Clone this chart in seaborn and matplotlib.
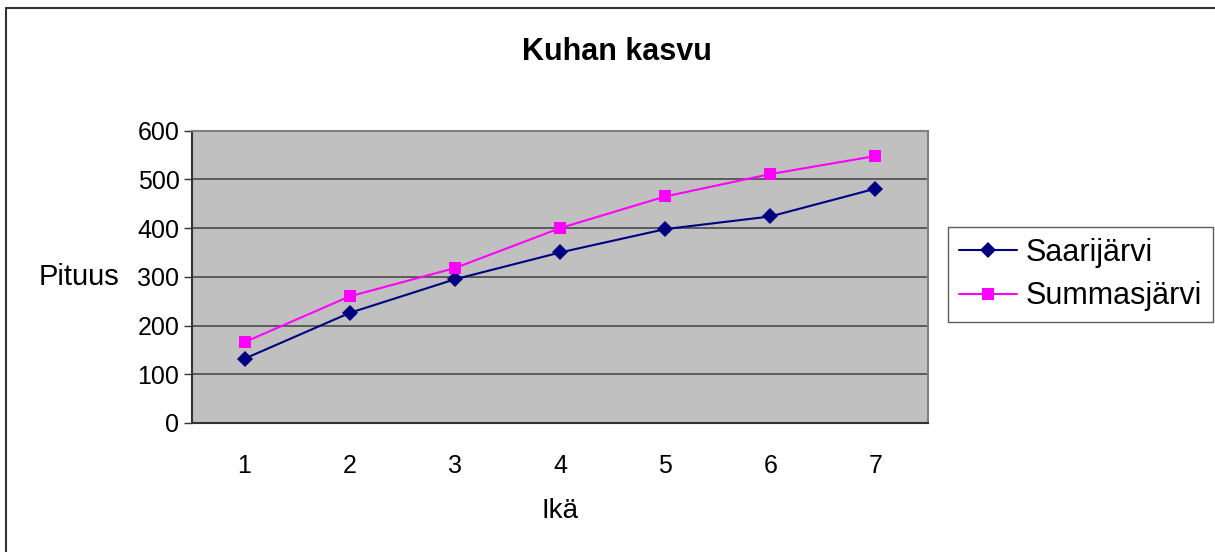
import pandas as pd
import seaborn as sns
import matplotlib.pyplot as plt
from matplotlib.lines import Line2D

# data
ika = [1, 2, 3, 4, 5, 6, 7]
saarijarvi = [132, 226, 295, 350, 398, 424, 481]
summasjarvi = [166, 260, 318, 400, 465, 511, 548]
y_ticks = [0, 100, 200, 300, 400, 500, 600]

df = pd.DataFrame({
    "Ikä": ika * 2,
    "Pituus": saarijarvi + summasjarvi,
    "Järvi": ["Saarijärvi"] * len(ika) + ["Summasjärvi"] * len(ika),
})

sns.set_style("white")
plt.rcParams["font.family"] = ["Liberation Sans", "DejaVu Sans"]
plt.rcParams["text.color"] = "black"
plt.rcParams["xtick.color"] = "black"
plt.rcParams["ytick.color"] = "black"
plt.rcParams["axes.labelcolor"] = "black"

fig = plt.figure(figsize=(12.15, 5.52), dpi=100)
ax = fig.add_axes([0.158, 0.2337, 0.6058, 0.5295])
ax.set_facecolor("#C0C0C0")

sns.lineplot(data=df, x="Ikä", y="Pituus", hue="Järvi", style="Järvi",
             palette={"Saarijärvi": "#000080", "Summasjärvi": "#FF00FF"},
             markers={"Saarijärvi": "D", "Summasjärvi": "s"},
             dashes=False, markersize=8, linewidth=1.5,
             markeredgewidth=0, ax=ax, zorder=3)

ax.set_xlim(0.5, 7.5)
ax.set_ylim(0, 600)
ax.set_yticks(y_ticks)
ax.set_xticks(ika)
ax.set_xticks([x + 0.5 for x in [0] + ika], minor=True)
ax.tick_params(axis="x", which="major", length=0, pad=22, labelsize=18)
ax.tick_params(axis="x", which="minor", length=6, width=1, color="#333333", direction="out")
ax.tick_params(axis="y", length=6, width=1, color="#333333", direction="out",
               labelsize=18, pad=3, left=True)
ax.yaxis.grid(True, color="#4a4a4a", linewidth=1.2)
ax.set_axisbelow(True)

for side in ["left", "bottom"]:
    ax.spines[side].set_color("#333333")
    ax.spines[side].set_linewidth(1.5)
for side in ["top", "right"]:
    ax.spines[side].set_color("#808080")
    ax.spines[side].set_linewidth(1.5)

ax.set_xlabel("Ikä", fontsize=20, va="center")
ax.xaxis.set_label_coords(0.5, -0.30)
ax.set_ylabel("Pituus", fontsize=21, rotation=0, ha="right", va="center")
ax.yaxis.set_label_coords(-0.098, 0.5)

fig.text(0.508, 0.906, "Kuhan kasvu", fontsize=22, fontweight="bold", ha="center", va="center")

handles, labels = ax.get_legend_handles_labels()
leg = ax.legend(handles, labels, loc="upper left", bbox_to_anchor=(948 / 1215, 1 - 227 / 552),
                bbox_transform=fig.transFigure,
                fontsize=22, frameon=True, fancybox=False, edgecolor="#333333",
                borderpad=0.35, handlelength=1.9, handletextpad=0.3, labelspacing=0.45,
                borderaxespad=0)
leg.get_frame().set_linewidth(1)

# outer frame, only top and left edges are visible in the reference
fig.add_artist(Line2D([0.005, 0.005], [0, 0.9855], transform=fig.transFigure,
                      color="#333333", linewidth=1.5))
fig.add_artist(Line2D([0.005, 1], [0.9855, 0.9855], transform=fig.transFigure,
                      color="#333333", linewidth=1.5))

plt.savefig("out.png", dpi=100)
